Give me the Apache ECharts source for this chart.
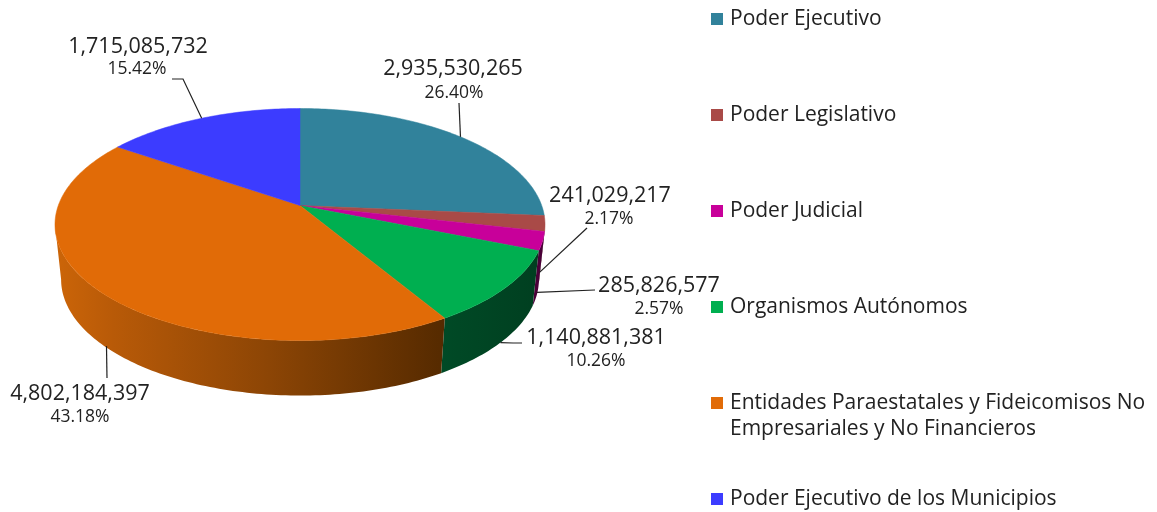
<!DOCTYPE html>
<html><head><meta charset="utf-8">
<style>html,body{margin:0;padding:0;background:#fff}#c{width:1157px;height:512px}</style>
<script src="https://cdn.jsdelivr.net/npm/echarts@6/dist/echarts.min.js"></script>
</head><body><div id="c"></div>
<script>
const names = ['Poder Ejecutivo','Poder Legislativo','Poder Judicial','Organismos Autónomos','Entidades Paraestatales y Fideicomisos No Empresariales y No Financieros','Poder Ejecutivo de los Municipios'];
const values = [2935530265,241029217,285826577,1140881381,4802184397,1715085732];
const percents = ['26.40%','2.17%','2.57%','10.26%','43.18%','15.42%'];
const colors = ['#31829B','#A94A47','#C8009A','#00AF50','#E16B07','#3C3CFF'];

// drawing parameters of the tilted disc
const disc = {cx:300, cy:205.5, a:241.7, b:112.9, k:0.164, depth:55, shrink:0.975};
const font = '"Open Sans"';
const sideStops = [
  [[0,'#1c4d5c'],[1,'#1c4d5c']],
  [[0,'#4a1514'],[1,'#4a1514']],
  [[0,'#4a0038'],[1,'#4a0038']],
  [[0,'#004a26'],[1,'#003f20']],
  [[0,'#cc6508'],[0.15,'#b85a08'],[0.55,'#8c4505'],[1,'#552a00']],
  [[0,'#20208f'],[1,'#20208f']]
];
// label placement: value-text centre, percent-text centre, leader elbows, how far down the side the leader starts
const labelLayout = [
  {v:[453,69],  p:[454,93],  drop:0,    path:[[459,103]]},
  {v:[610,196], p:[609,219], drop:0.89, path:[[587,228]]},
  {v:[659,286], p:[659,309], drop:0.93, path:[[595,290]]},
  {v:[596,338], p:[596,361], drop:1,    path:[[513,343],[522,343]]},
  {v:[80,394],  p:[80,417],  drop:0.97, path:[[107,378]]},
  {v:[138,47],  p:[137,69],  drop:0,    path:[[183,79],[172,79]]}
];

const total = values.reduce((s,v)=>s+v,0);
// the side wall only shows between the two points where the rim turns back
const turn = Math.acos(-disc.k)*180/Math.PI;
function project(deg){
  const t = deg*Math.PI/180, u = Math.sin(t), v = -Math.cos(t), w = 1-disc.k*v;
  return [disc.cx+disc.a*u/w, disc.cy+disc.b*v/w];
}
function lower(p,f){
  return [disc.cx+(p[0]-disc.cx)*(1-(1-disc.shrink)*f), p[1]+disc.depth*f];
}
function arc(a0,a1){
  const n = Math.max(2,Math.ceil(Math.abs(a1-a0))), pts=[];
  for(let i=0;i<=n;i++) pts.push(project(a0+(a1-a0)*i/n));
  return pts;
}
function fmt(v){return String(v).replace(/\B(?=(\d{3})+$)/g,',');}

function renderSlice(idx){
  return function(params,api){
    const val = api.value(0);
    let before = 0;
    for(let i=0;i<idx;i++) before += values[i];
    const a0 = before/total*360, a1 = (before+val)/total*360, mid=(a0+a1)/2;
    const rim = arc(a0,a1);
    const L = labelLayout[idx];
    const anchor = lower(project(mid),L.drop);
    const children = [];
    const s0 = Math.max(a0,turn), s1 = Math.min(a1,360-turn);
    if(s1>s0){
      const wall = arc(s0,s1);
      const low = wall.map(p=>lower(p,1)).reverse();
      const stops = sideStops[idx].map(s=>({offset:s[0],color:s[1]}));
      children.push({type:'polygon',z2:1,shape:{points:wall.concat(low)},
        style:{fill:new echarts.graphic.LinearGradient(0,0,1,0,stops),stroke:null}});
    }
    children.push(
      {type:'polygon',z2:10,shape:{points:[[disc.cx,disc.cy]].concat(rim)},
        style:{fill:colors[idx],stroke:colors[idx],lineWidth:0.5}},
      {type:'polyline',z2:20,shape:{points:[anchor].concat(L.path)},
        style:{fill:null,stroke:'#222',lineWidth:1.2}},
      {type:'text',z2:30,style:{x:L.v[0],y:L.v[1],text:fmt(val),font:'21.5px '+font,fill:'#222',align:'center',verticalAlign:'middle'}},
      {type:'text',z2:30,style:{x:L.p[0],y:L.p[1],text:percents[idx],font:'17.5px '+font,fill:'#222',align:'center',verticalAlign:'middle'}}
    );
    return {type:'group',children};
  };
}

function legendText(name){
  if(name.length<45) return '\n'+name+'\n ';
  const cut = name.indexOf(' Empresariales');
  return '\n'+name.slice(0,cut)+'\n'+name.slice(cut+1);
}

const chart = echarts.init(document.getElementById('c'),null,{renderer:'canvas'});
chart.setOption({
  animation:false,
  backgroundColor:'#fff',
  legend:{
    orient:'vertical',left:711,top:-20,height:620,padding:0,
    itemWidth:12,itemHeight:12,itemGap:18,icon:'rect',selectedMode:false,
    data:names,formatter:legendText,
    textStyle:{fontFamily:font,fontSize:21,lineHeight:26,color:'#222',padding:[0,0,0,2]}
  },
  series:names.map((n,i)=>({
    type:'custom',name:n,coordinateSystem:'none',silent:true,
    itemStyle:{color:colors[i]},
    data:[[values[i]]],
    renderItem:renderSlice(i)
  }))
});
</script></body></html>
